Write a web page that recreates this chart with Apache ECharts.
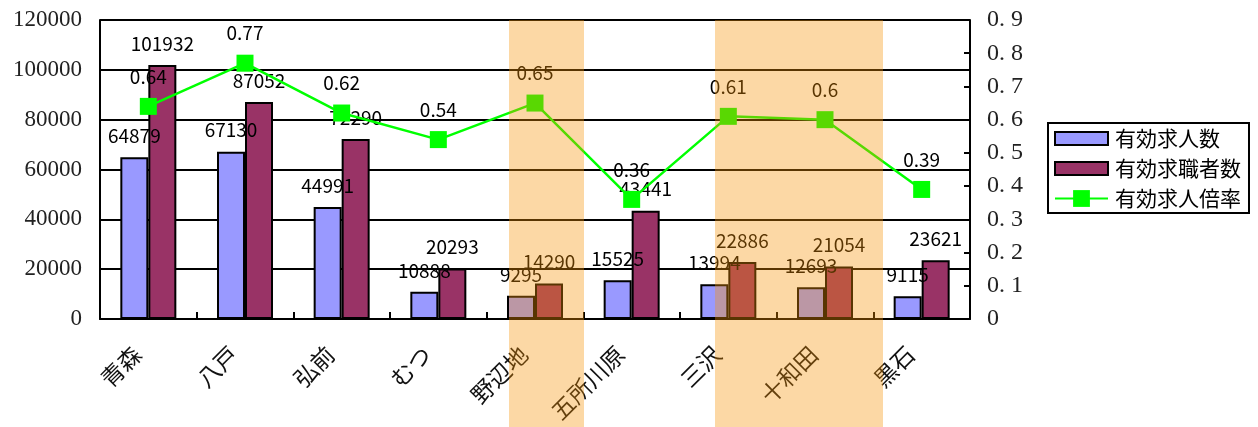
<!DOCTYPE html>
<html><head><meta charset="utf-8">
<script src="https://cdn.jsdelivr.net/npm/echarts@6/dist/echarts.min.js"></script>
<style>html,body{margin:0;padding:0;background:#fff}#c{width:1258px;height:427px}</style>
</head><body><div id="c"></div>
<script>
const categories = ['青森','八戸','弘前','むつ','野辺地','五所川原','三沢','十和田','黒石'];
const jobOffers = [64879, 67130, 44991, 10888, 9295, 15525, 13994, 12693, 9115];
const jobSeekers = [101932, 87052, 72290, 20293, 14290, 43441, 22886, 21054, 23621];
const ratio = [0.64, 0.77, 0.62, 0.54, 0.65, 0.36, 0.61, 0.6, 0.39];
const seriesNames = ['有効求人数','有効求職者数','有効求人倍率'];

const sans = '"Noto Sans CJK JP", sans-serif';
const serif = '"Liberation Serif", "DejaVu Serif", serif';
const lbl = {show:true, position:'top', distance:12, color:'#000', fontFamily:sans, fontSize:19};
const band = 'rgba(247,147,5,0.36)';
const barIcon = 'path://M0,0 L53,0 L53,13 L0,13 Z';

const chart = echarts.init(document.getElementById('c'));
chart.setOption({
  animation:false,
  grid:{left:100, right:288, top:20, bottom:108},
  legend:{
    left:1048, top:123, orient:'vertical',
    itemWidth:53, itemHeight:21, itemGap:9,
    symbolKeepAspect:true,
    borderColor:'#000', borderWidth:2, padding:[5,8,4,6],
    textStyle:{fontFamily:sans, fontSize:21, color:'#000', padding:[0,0,0,2]},
    data:[{name:seriesNames[0], icon:barIcon},{name:seriesNames[1], icon:barIcon},{name:seriesNames[2]}]
  },
  xAxis:{
    type:'category', data:categories,
    axisLine:{lineStyle:{color:'#000', width:2}},
    axisTick:{show:true, inside:true, length:7, lineStyle:{color:'#000', width:2}},
    axisLabel:{rotate:45, margin:20, padding:[0,16,0,0], fontFamily:sans, fontSize:23, color:'#111', interval:0}
  },
  yAxis:[
    {type:'value', min:0, max:120000, interval:20000,
     axisLine:{show:true, lineStyle:{color:'#000', width:2}},
     axisTick:{show:false},
     splitLine:{lineStyle:{color:'#000', width:2}},
     axisLabel:{margin:18, fontFamily:serif, fontSize:23, color:'#222', formatter:v => String(v)}},
    {type:'value', min:0, max:0.9, interval:0.1, position:'right',
     axisLine:{show:true, lineStyle:{color:'#000', width:2}},
     axisTick:{show:true, inside:true, length:6, lineStyle:{color:'#000', width:2}},
     splitLine:{show:false},
     axisLabel:{margin:17, fontFamily:serif, fontSize:24, color:'#222',
       formatter:v => v === 0 ? '0' : v.toFixed(1).replace('.', '. ')}}
  ],
  series:[
    {name:seriesNames[0], type:'bar', data:jobOffers, barWidth:28, barGap:'0%',
     itemStyle:{color:'#9999FF', borderColor:'#000', borderWidth:2}, label:lbl},
    {name:seriesNames[1], type:'bar', data:jobSeekers, barWidth:28, barGap:'0%',
     itemStyle:{color:'#993366', borderColor:'#000', borderWidth:2}, label:lbl},
    {name:seriesNames[2], type:'line', yAxisIndex:1, data:ratio,
     symbol:'rect', symbolSize:17,
     lineStyle:{color:'#00FF00', width:2.5},
     itemStyle:{color:'#00FF00'},
     label:Object.assign({}, lbl, {distance:12}), z:5}
  ],
  graphic:[
    {type:'rect', z:100, silent:true, shape:{x:509, y:20, width:75, height:407}, style:{fill:band}},
    {type:'rect', z:100, silent:true, shape:{x:715, y:20, width:168, height:407}, style:{fill:band}}
  ]
});
</script></body></html>
